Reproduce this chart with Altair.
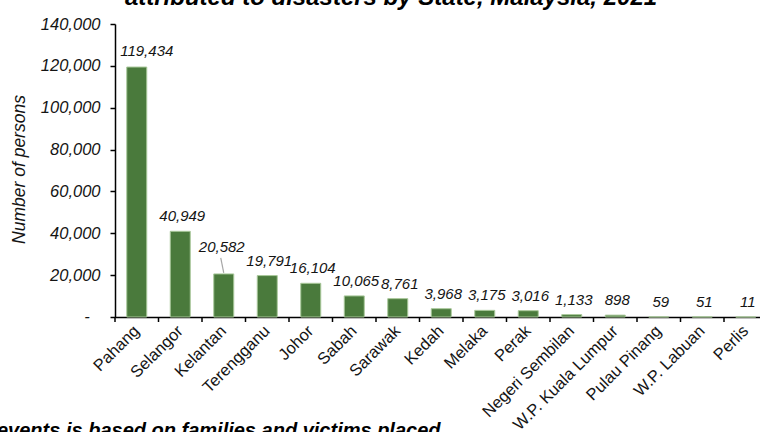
import altair as alt
import pandas as pd

states = ["Pahang", "Selangor", "Kelantan", "Terengganu", "Johor", "Sabah", "Sarawak",
          "Kedah", "Melaka", "Perak", "Negeri Sembilan", "W.P. Kuala Lumpur",
          "Pulau Pinang", "W.P. Labuan", "Perlis"]
persons = [119434, 40949, 20582, 19791, 16104, 10065, 8761, 3968, 3175, 3016,
           1133, 898, 59, 51, 11]
y_ticks = [0, 20000, 40000, 60000, 80000, 100000, 120000, 140000]
zero_label = ["-"]
title_text = ["attributed to disasters by State, Malaysia, 2021"]
note_text = ["events is based on families and victims placed"]
y_title = "Number of persons"

df = pd.DataFrame({"state": states, "persons": persons})

FONT = "Liberation Sans"
TXT = "#141414"

x_scale = alt.Scale(domain=states, range=[0, 652.5], paddingInner=0, paddingOuter=0)
y_scale = alt.Scale(domain=[0, 140000], nice=False)

x_axis = alt.Axis(title=None, labelAngle=-45, labelAlign="right", labelBaseline="middle",
                  labelFont=FONT, labelFontSize=16.5, labelColor=TXT, ticks=False,
                  domainColor="#000000", domainWidth=1.5, labelPadding=11, grid=False,
                  labelOverlap=False)
y_axis = alt.Axis(values=y_ticks,
                  labelExpr="datum.value == 0 ? '' : format(datum.value, ',')",
                  title=y_title, titleFont=FONT, titleFontSize=17.5, titleFontStyle="italic",
                  titleFontWeight="normal", titleColor=TXT, titleX=-96, titleY=145,
                  titleAngle=-90, titleAlign="center", titleBaseline="middle",
                  labelFont=FONT, labelFontSize=16.5, labelFontStyle="italic", labelColor=TXT,
                  tickSize=5, tickColor="#000000", tickWidth=1.5, domainColor="#000000",
                  domainWidth=1.5, labelPadding=10, grid=False)

base = alt.Chart(df)
X = alt.X("state:N", scale=x_scale, sort=states, axis=x_axis)
Y = alt.Y("persons:Q", scale=y_scale, axis=y_axis)

bars = base.mark_bar(width=20, color="#4a7a3c", stroke="#a9c89a", strokeWidth=1).encode(x=X, y=Y)

ticks = base.mark_rule(color="#000000", strokeWidth=1.5).encode(
    x=alt.X("state:N", scale=x_scale, sort=states, bandPosition=0, axis=x_axis),
    y=alt.value(293), y2=alt.value(298))

label_style = dict(font=FONT, fontSize=15, fontStyle="italic", color=TXT, baseline="middle")
labels = base.transform_filter(
    (alt.datum.state != "Kelantan") & (alt.datum.state != "Pahang")
).mark_text(dy=-15, dx=2, **label_style).encode(
    x=X, y=Y, text=alt.Text("persons:Q", format=","))
label_pahang = base.transform_filter(alt.datum.state == "Pahang").mark_text(
    dy=-16, dx=10, **label_style).encode(x=X, y=Y, text=alt.Text("persons:Q", format=","))
label_kel = base.transform_filter(alt.datum.state == "Kelantan").mark_text(
    dy=-27, dx=-2, **label_style).encode(x=X, y=Y, text=alt.Text("persons:Q", format=","))
leader = base.transform_filter(alt.datum.state == "Kelantan").mark_rule(
    color="#a6a6a6", strokeWidth=1.2, xOffset=-3, x2Offset=0, yOffset=-16, y2Offset=-1).encode(
    x=X, x2=alt.X2("state:N"), y=Y, y2=alt.Y2("persons:Q"))

zero = alt.Chart(alt.Data(values=[{"v": y_ticks[0], "t": zero_label[0]}])).mark_text(
    font=FONT, fontSize=16.5, fontStyle="italic", color=TXT, align="center",
    baseline="middle").encode(
    x=alt.value(-28), y=alt.Y("v:Q", scale=y_scale, axis=y_axis), text="t:N")

title = alt.Chart(alt.Data(values=[{"t": title_text[0]}])).mark_text(
    font=FONT, fontSize=24, fontWeight="bold", fontStyle="italic", align="center",
    baseline="alphabetic", color="#000000").encode(
    x=alt.value(276), y=alt.value(-19), text="t:N")

note = alt.Chart(alt.Data(values=[{"t": note_text[0]}])).mark_text(
    font=FONT, fontSize=20, fontWeight="bold", fontStyle="italic", align="left",
    baseline="alphabetic", color="#000000").encode(
    x=alt.value(-118), y=alt.value(413), text="t:N")

chart = alt.layer(bars, ticks, leader, labels, label_pahang, label_kel, zero, title, note).properties(
    width=645, height=293,
    autosize=alt.AutoSizeParams(type="none"),
    padding={"left": 115, "top": 24, "right": 0, "bottom": 115},
    background="white",
).configure_view(stroke=None)

chart.save("out.html", embed_options={"renderer": "svg", "actions": False})
